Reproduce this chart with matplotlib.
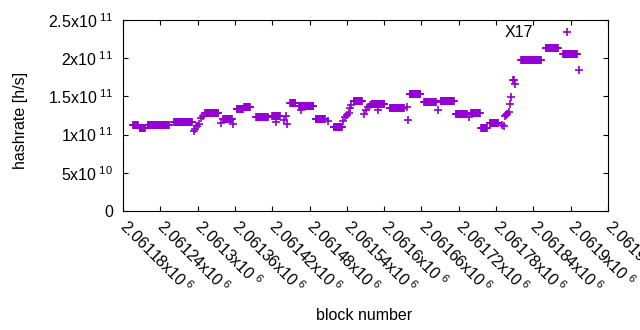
import matplotlib

matplotlib.use("Agg")
import matplotlib.pyplot as plt
import numpy as np
from matplotlib.ticker import FixedLocator, FuncFormatter

plt.rcParams["font.family"] = ["Liberation Sans", "DejaVu Sans"]
plt.rcParams["mathtext.fontset"] = "custom"
plt.rcParams["mathtext.rm"] = "Liberation Sans"
plt.rcParams["mathtext.it"] = "Liberation Sans"

PURPLE = "#9400d3"
FS = 11.5
BASE = 2061180

# runs of consecutive blocks sharing one estimate (block offsets from BASE)
run_start = [16, 27, 40, 82, 132, 161, 183, 195, 214, 240, 269, 283, 310, 339,
             371, 400, 429, 461, 484, 511, 535, 560, 576, 590, 640, 680, 708]
run_end = [24, 35, 74, 111, 153, 175, 193, 204, 233, 252, 277, 306, 325, 352,
           384, 420, 452, 478, 503, 532, 553, 574, 585, 603, 672, 699, 730]
run_value = [1.12e11, 1.08e11, 1.13e11, 1.165e11, 1.28e11, 1.20e11, 1.335e11,
             1.36e11, 1.23e11, 1.24e11, 1.41e11, 1.38e11, 1.20e11, 1.105e11,
             1.446e11, 1.40e11, 1.345e11, 1.525e11, 1.43e11, 1.446e11, 1.27e11,
             1.28e11, 1.086e11, 1.15e11, 1.98e11, 2.14e11, 2.055e11]

# single blocks
pt_block = [114, 116, 119, 122, 125, 129, 158, 177, 246, 259, 262, 264, 286,
            330, 354, 357, 360, 363, 365, 367, 388, 391, 394, 397, 410, 456,
            459, 507, 556, 609, 613, 614, 616, 617, 621, 622, 624, 627, 629,
            631, 714, 733]
pt_value = [1.05e11, 1.07e11, 1.11e11, 1.14e11, 1.22e11, 1.24e11, 1.15e11,
            1.14e11, 1.165e11, 1.19e11, 1.24e11, 1.14e11, 1.32e11, 1.18e11,
            1.18e11, 1.23e11, 1.26e11, 1.28e11, 1.35e11, 1.39e11, 1.27e11,
            1.32e11, 1.36e11, 1.39e11, 1.32e11, 1.36e11, 1.19e11, 1.32e11,
            1.23e11, 1.13e11, 1.11e11, 1.24e11, 1.26e11, 1.27e11, 1.30e11,
            1.40e11, 1.49e11, 1.71e11, 1.72e11, 1.66e11, 2.34e11, 1.85e11]

xticks = [2061180 + 60 * i for i in range(14)]
yticks = [0, 5e10, 1e11, 1.5e11, 2e11, 2.5e11]

blocks = []
values = []
for s, e, v in zip(run_start, run_end, run_value):
    for b in range(s, e + 1):
        blocks.append(BASE + b)
        values.append(v)
for b, v in zip(pt_block, pt_value):
    blocks.append(BASE + b)
    values.append(v)


def sci(v, _pos=None):
    if v == 0:
        return "0"
    e = int(np.floor(np.log10(v) + 1e-9))
    m = v / 10 ** e
    return f"{m:g}x10$^{{\\ {e}}}$"


fig = plt.figure(figsize=(6.4, 3.3), dpi=100)
ax = fig.add_axes([123 / 640, 1 - 211 / 330, 485 / 640, 191 / 330])

ax.plot(blocks, values, ls="none", marker="+", ms=6, mew=1.2, color=PURPLE)
ax.text(2061794, 2.34e11, "X17", ha="left", va="center", fontsize=FS)

ax.set_xlim(xticks[0], xticks[-1])
ax.set_ylim(0, 2.5e11)
ax.xaxis.set_major_locator(FixedLocator(xticks))
ax.yaxis.set_major_locator(FixedLocator(yticks))
ax.xaxis.set_major_formatter(FuncFormatter(sci))
ax.yaxis.set_major_formatter(FuncFormatter(sci))
ax.tick_params(direction="in", length=3.5, width=0.8, top=True, right=True,
               labelsize=FS)
ax.tick_params(axis="y", pad=7)
ax.tick_params(axis="x", pad=8.5)
for lab in ax.get_xticklabels():
    lab.set_rotation(-45)
    lab.set_ha("left")
    lab.set_va("center")
    lab.set_rotation_mode("anchor")
for sp in ax.spines.values():
    sp.set_linewidth(0.8)

fig.text(21 / 640, 1 - 120 / 330, "hashrate [h/s]", rotation=90,
         ha="center", va="center", fontsize=FS)
fig.text(364 / 640, 1 - 316 / 330, "block number", ha="center", va="center",
         fontsize=FS)

fig.savefig("out.png", dpi=100, facecolor="white")
